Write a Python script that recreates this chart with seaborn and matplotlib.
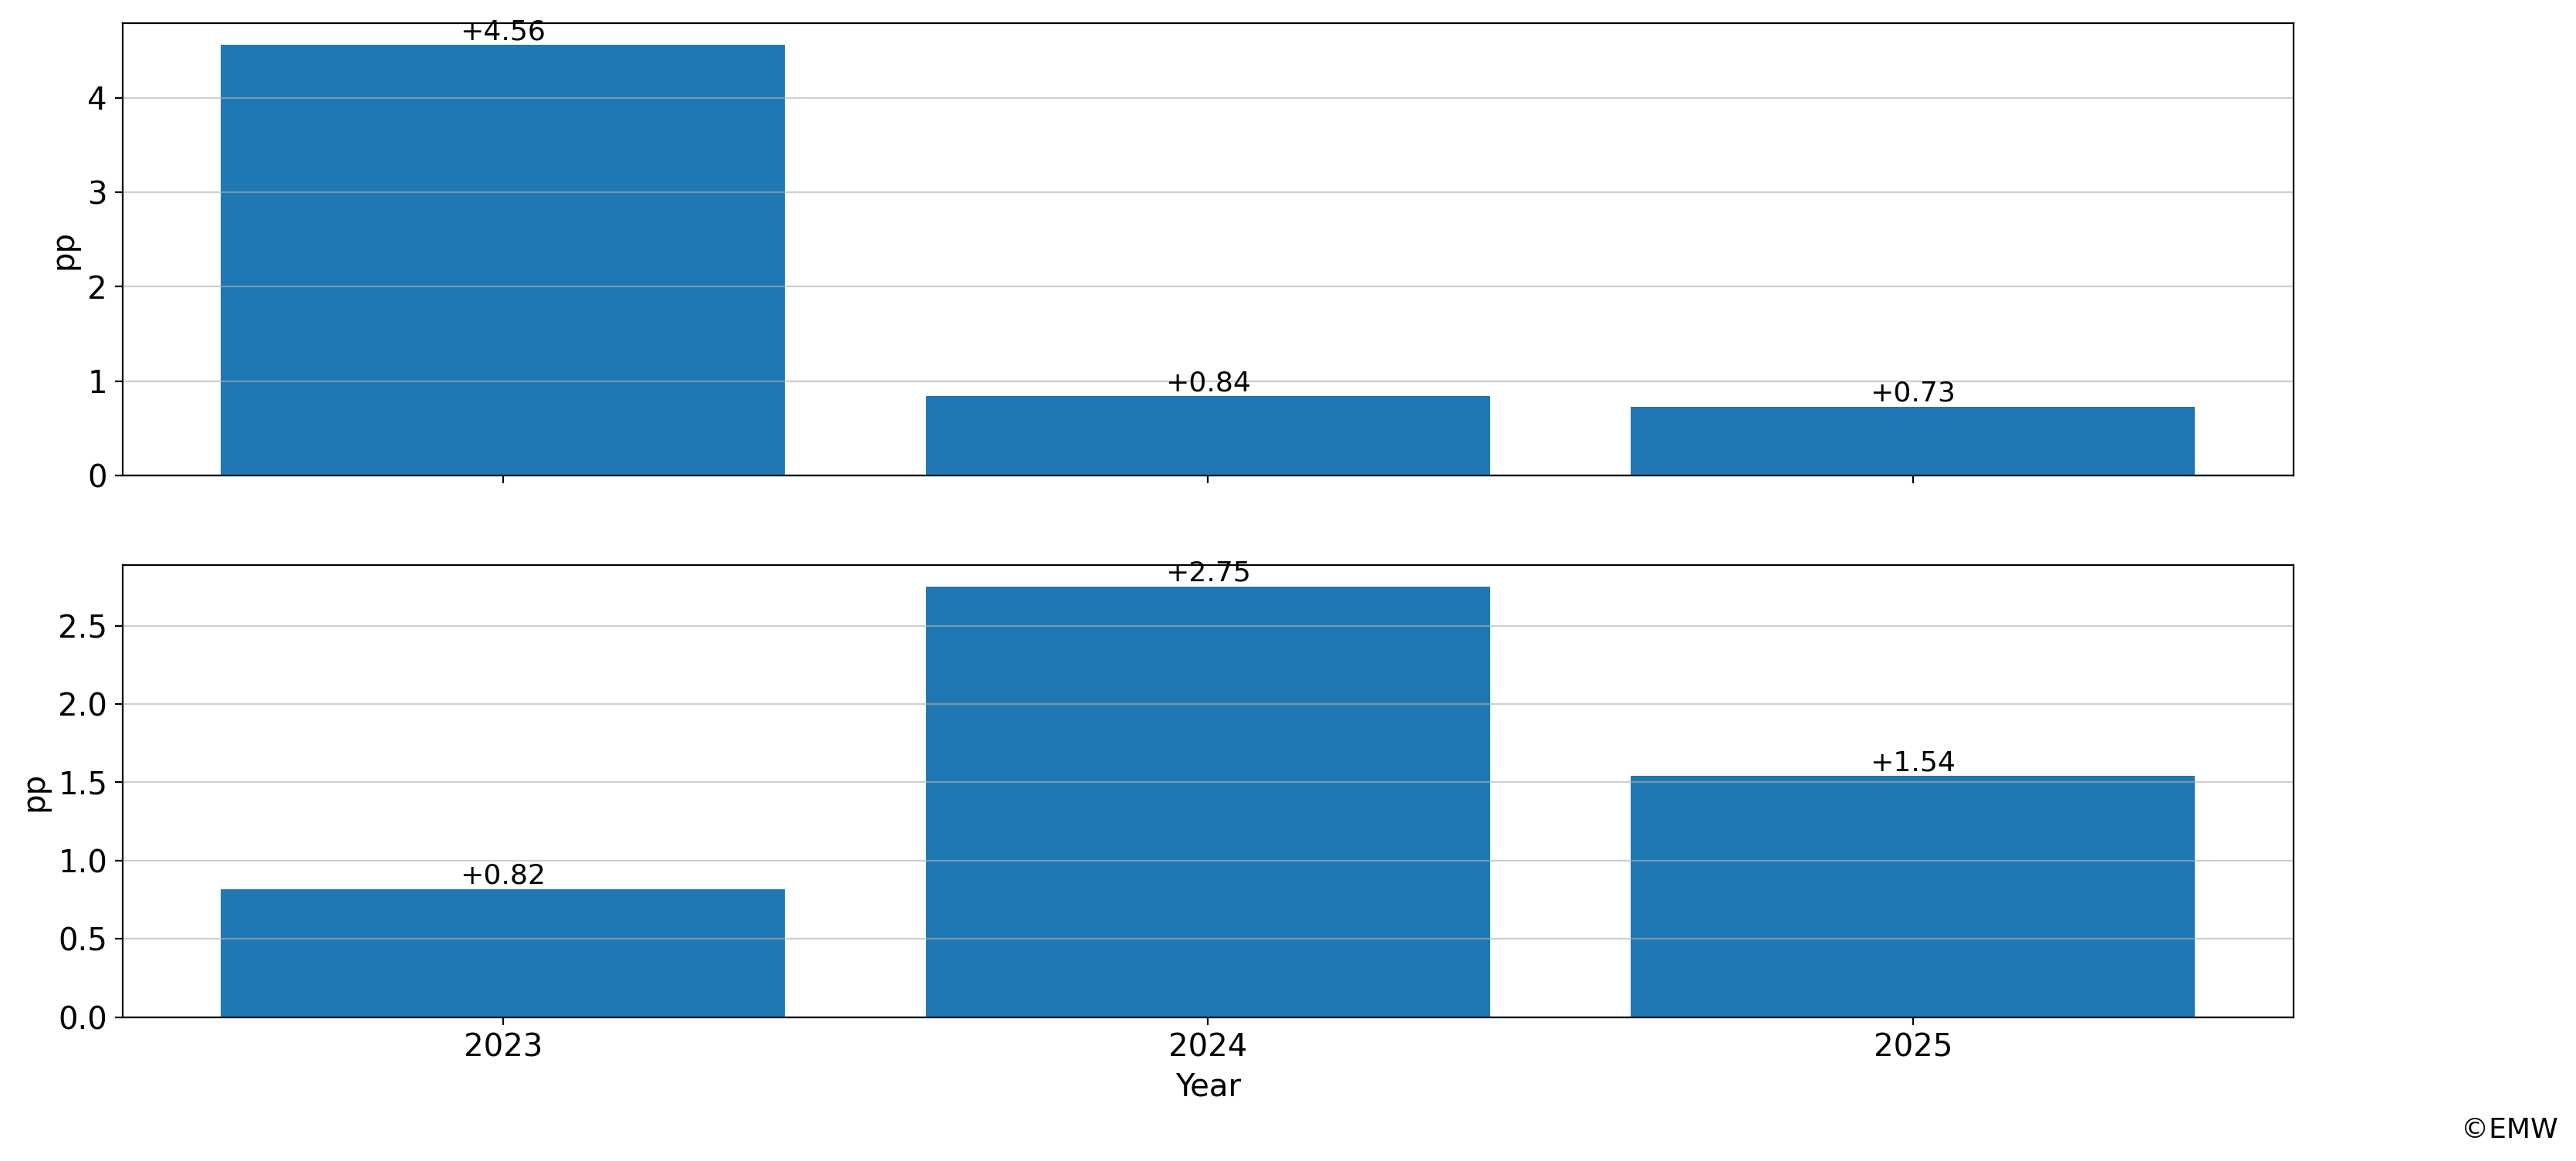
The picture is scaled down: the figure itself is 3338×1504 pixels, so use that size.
import numpy as np
import pandas as pd
import matplotlib
matplotlib.use("Agg")
import matplotlib.pyplot as plt
import seaborn as sns

# --- Data ---
years = ["2023", "2024", "2025"]
top_values = [4.56, 0.84, 0.73]
bottom_values = [0.82, 2.75, 1.54]

bar_color = "#1f77b4"

plt.rcParams["font.family"] = ["DejaVu Sans"]

fig = plt.figure(figsize=(3338 / 200, 1504 / 200), dpi=200)
ax_top = fig.add_axes([0.0475, 0.5904, 0.8429, 0.3894])
ax_bot = fig.add_axes([0.0475, 0.1237, 0.8429, 0.3897], sharex=ax_top)

for ax, vals in [(ax_top, top_values), (ax_bot, bottom_values)]:
    df = pd.DataFrame({"Year": years, "pp": vals})
    sns.barplot(data=df, x="Year", y="pp", color=bar_color, saturation=1,
                width=0.8, ax=ax, zorder=2)
    ax.axhline(0, color=bar_color, linewidth=1.2, zorder=1.5)
    ax.set_xlim(-0.54, 2.54)
    ax.set_ylim(0, max(vals) * 1.05)
    ax.grid(axis="y", color="#b0b0b0", linewidth=0.8, alpha=0.6, zorder=3)
    ax.set_axisbelow(False)
    # value labels on top of each bar
    for i, v in enumerate(vals):
        ax.text(i, v, f"+{v:.2f}", ha="center", va="bottom", fontsize=13, zorder=4)
    for s in ax.spines.values():
        s.set_color("black")
        s.set_linewidth(0.8)
        s.set_zorder(5)
    ax.tick_params(axis="both", labelsize=14.5, length=3.5, width=0.8, direction="out")
    ax.set_ylabel("pp", fontsize=14.5)

ax_top.set_xlabel("")
ax_top.tick_params(axis="x", labelbottom=False)
ax_bot.set_xlabel("Year", fontsize=14.5)

fig.text(0.993, 0.02, "©EMW", ha="right", va="baseline", fontsize=13)

fig.savefig("out.png", dpi=200)
